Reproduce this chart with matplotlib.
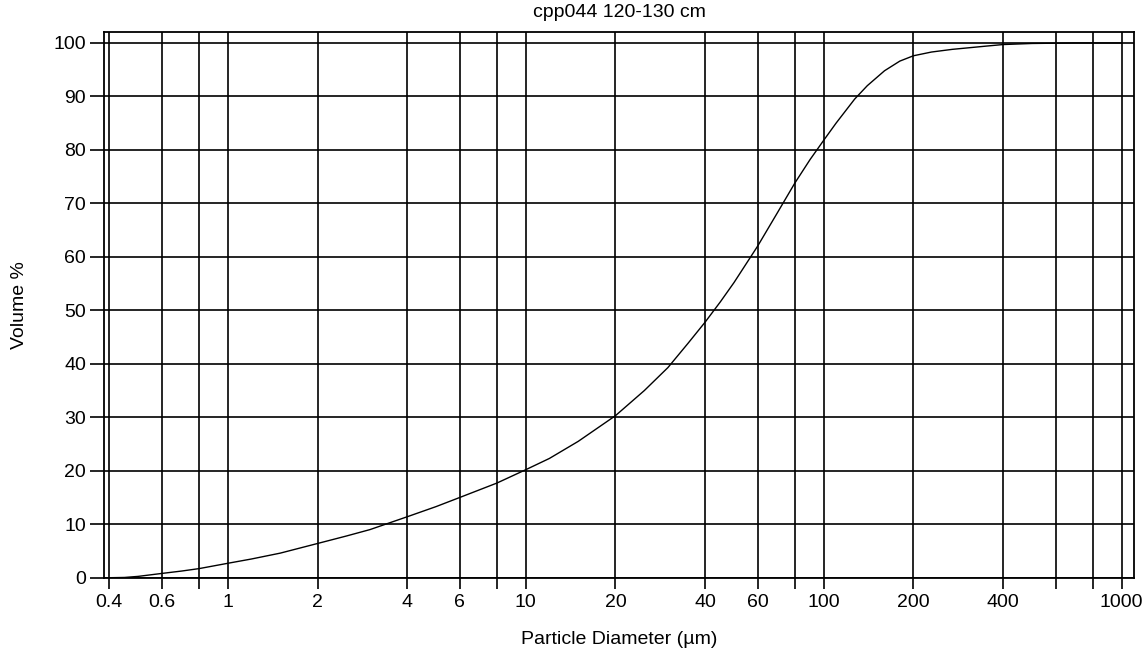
import matplotlib

matplotlib.use("Agg")
import matplotlib.pyplot as plt

plt.rcParams["font.family"] = ["Liberation Sans", "DejaVu Sans"]

# cumulative volume curve
diameter_um = [0.4, 0.45, 0.5, 0.6, 0.7, 0.8, 1, 1.2, 1.5, 2, 2.5, 3, 4, 5, 6,
               8, 10, 12, 15, 20, 25, 30, 35, 40, 45, 50, 60, 70, 80, 90, 100,
               110, 127, 140, 160, 180, 200, 230, 270, 350, 400, 500, 700, 1000]
volume_pct = [0.0, 0.05, 0.25, 0.8, 1.25, 1.7, 2.7, 3.5, 4.6, 6.4, 7.8, 9.0,
              11.4, 13.3, 15.0, 17.7, 20.2, 22.3, 25.5, 30.3, 35.0, 39.3, 43.8,
              47.8, 51.6, 55.2, 62.0, 68.3, 73.8, 78.2, 81.8, 85.0, 89.5, 92.0,
              94.8, 96.6, 97.6, 98.3, 98.8, 99.4, 99.7, 99.9, 100.0, 100.0]

grid_x = [0.4, 0.6, 0.8, 1, 2, 4, 6, 8, 10, 20, 40, 60, 80, 100, 200, 400,
          600, 800, 1000]
x_labels = ["0.4", "0.6", "", "1", "2", "4", "6", "", "10", "20", "40", "60",
            "", "100", "200", "400", "", "", "1000"]
y_ticks = list(range(0, 101, 10))

fig = plt.figure(figsize=(11.45, 6.58), dpi=100)
ax = fig.add_axes([0.0908, 0.122, 0.8996, 0.829])

ax.plot(diameter_um, volume_pct, color="black", linewidth=1.0, zorder=3)

ax.set_xscale("log")
ax.set_xlim(0.384, 1100)
ax.set_ylim(0, 102)

ax.set_xticks(grid_x)
ax.set_xticklabels(x_labels)
ax.minorticks_off()
ax.set_yticks(y_ticks)

ax.tick_params(axis="both", labelsize=14, colors="black", width=1.2)
ax.tick_params(axis="x", length=8, pad=4)
ax.tick_params(axis="y", length=10, pad=3)

ax.grid(True, color="black", linewidth=1.2)
for s in ax.spines.values():
    s.set_linewidth(1.3)
    s.set_color("black")

ax.set_title("cpp044 120-130 cm", fontsize=14, pad=11)
ax.set_xlabel("Particle Diameter (\u00b5m)", fontsize=14, labelpad=14)
ax.set_ylabel("Volume %", fontsize=14, labelpad=18)

fig.savefig("out.png", dpi=100)
